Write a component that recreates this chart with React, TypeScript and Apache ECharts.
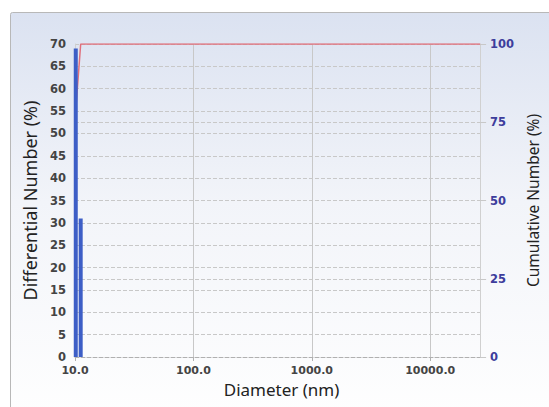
import React, { useEffect, useRef } from "react";
import * as echarts from "echarts";

const diameters = [10.15, 11.17];
const differential = [69, 31];
const cumulativeX = [10.15, 11.17, 26400];
const cumulativeY = [79, 100, 100];
const leftTicks = { min: 0, max: 70, interval: 5 };
const rightTicks = { min: 0, max: 100, interval: 25 };
const xRange = { min: 10, max: 26400 };
const xTickLabels = [10, 100, 1000, 10000];

export default function App() {
  const ref = useRef<HTMLDivElement>(null);
  useEffect(() => {
    if (!ref.current) return;
    const chart = echarts.init(ref.current, undefined, { renderer: "svg" });
    const tickFont = { fontFamily: "DejaVu Sans", fontSize: 11, fontWeight: "bold" as const };
    chart.setOption({
      animation: false,
      graphic: [
        {
          type: "rect",
          z: -10,
          silent: true,
          shape: { x: 10.5, y: 12.5, width: 560, height: 420, r: 2 },
          style: {
            fill: new echarts.graphic.LinearGradient(0, 0, 0, 1, [
              { offset: 0, color: "#dbe2f1" },
              { offset: 0.45, color: "#f2f4f9" },
              { offset: 1, color: "#ffffff" },
            ]),
            stroke: "#b8b8b8",
            lineWidth: 1,
          },
        },
      ],
      grid: { left: 75, right: 62, top: 44, bottom: 50 },
      xAxis: {
        type: "log",
        logBase: 10,
        min: xRange.min,
        max: xRange.max,
        name: "Diameter (nm)",
        nameLocation: "middle",
        nameGap: 23,
        nameTextStyle: { fontFamily: "Noto Sans", fontSize: 17, color: "#222", padding: [0, 0, 0, 8] },
        axisLine: { show: true, lineStyle: { color: "#b0b0b0", type: "dashed" } },
        axisTick: { show: true, length: 4, lineStyle: { color: "#b0b0b0" } },
        axisLabel: {
          ...tickFont,
          color: "#444",
          margin: 8,
          showMaxLabel: false,
          formatter: (v: number) =>
            xTickLabels.some((t) => Math.abs(t - v) / t < 1e-6) ? v.toFixed(1) : "",
        },
        splitLine: { show: true, lineStyle: { color: "#c8c8c8", type: "solid" } },
        minorTick: { show: false },
      },
      yAxis: [
        {
          type: "value",
          min: leftTicks.min,
          max: leftTicks.max,
          interval: leftTicks.interval,
          name: "Differential Number (%)",
          nameLocation: "middle",
          nameGap: 32,
          nameTextStyle: { fontFamily: "Noto Sans", fontSize: 18, color: "#222" },
          axisLine: { show: true, lineStyle: { color: "#d0d0d0" } },
          axisTick: { show: false },
          axisLabel: { ...tickFont, fontSize: 11.5, color: "#444", margin: 9 },
          splitLine: { show: true, lineStyle: { color: "#c8c8c8", type: "dashed" } },
        },
        {
          type: "value",
          min: rightTicks.min,
          max: rightTicks.max,
          interval: rightTicks.interval,
          position: "right",
          name: "Cumulative Number (%)",
          nameLocation: "middle",
          nameGap: 21,
          nameRotate: 90,
          nameTextStyle: { fontFamily: "Noto Sans", fontSize: 15.5, color: "#222" },
          axisLine: { show: true, lineStyle: { color: "#d0d0d0" } },
          axisTick: { show: true, length: 6, lineStyle: { color: "#c8c8c8" } },
          axisLabel: { ...tickFont, fontSize: 11.5, color: "#3d3d9c", margin: 10 },
          splitLine: { show: true, lineStyle: { color: "#c8c8c8", type: "dashed" } },
        },
      ],
      series: [
        {
          type: "line",
          yAxisIndex: 1,
          z: 1,
          symbol: "none",
          data: cumulativeX.map((x, i) => [x, cumulativeY[i]]),
          lineStyle: { color: "#e0707c", width: 1.5 },
        },
        {
          type: "bar",
          yAxisIndex: 0,
          z: 3,
          barWidth: 4,
          data: diameters.map((d, i) => [d, differential[i]]),
          itemStyle: { color: "#3d5ec6" },
        },
      ],
    });
    return () => chart.dispose();
  }, []);
  return <div ref={ref} style={{ width: 549, height: 407, position: "absolute", left: 0, top: 0 }} />;
}
